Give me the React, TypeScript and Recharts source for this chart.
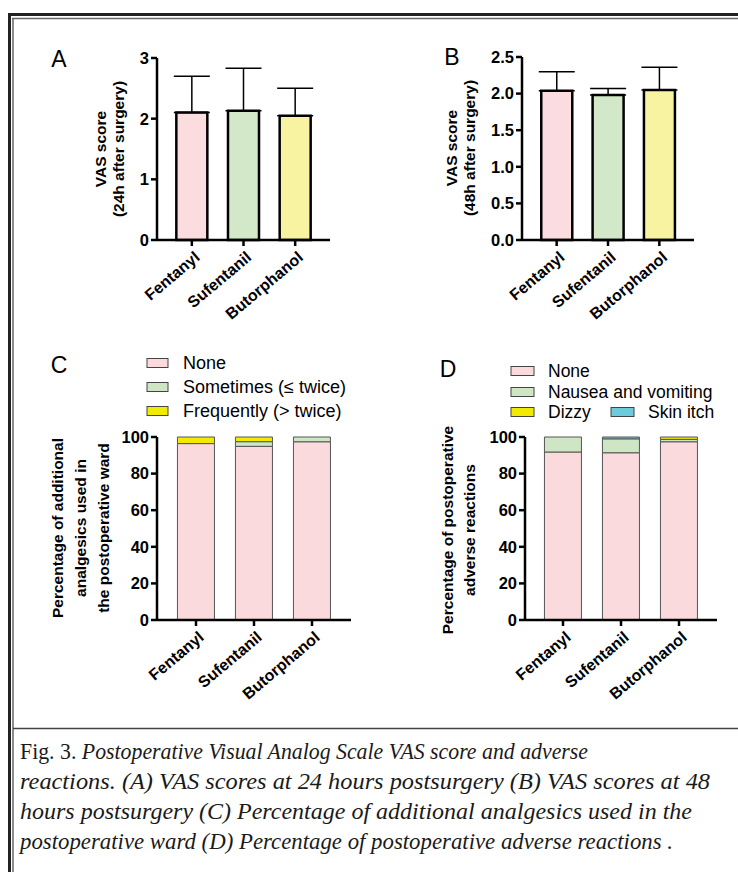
import React from 'react';
import { BarChart, Bar, XAxis, YAxis, ErrorBar, Cell, Label } from 'recharts';

const SANS = '"Liberation Sans", Arial, Helvetica, sans-serif';
const SERIF = '"Liberation Serif", "Times New Roman", serif';

// ---- data ----
const drugs = ['Fentanyl', 'Sufentanil', 'Butorphanol'];
const drugFills = ['#fbdde0', '#d2e8c8', '#f8f3a0'];

const vas24Mean = [2.1, 2.13, 2.05];
const vas24Sd = [0.6, 0.7, 0.45];
const vas24Ticks = [0, 1, 2, 3];

const vas48Mean = [2.04, 1.98, 2.05];
const vas48Sd = [0.26, 0.09, 0.31];
const vas48Ticks = [0, 0.5, 1, 1.5, 2, 2.5];

const pctTicks = [0, 20, 40, 60, 80, 100];

const analgNames = ['None', 'Sometimes (\u2264 twice)', 'Frequently (> twice)'];
const analgColors = ['#fbdadd', '#cfe6c4', '#f2ea00'];
const analgNone = [96.4, 94.9, 97.4];
const analgSometimes = [0, 2.55, 2.6];
const analgFrequent = [3.6, 2.55, 0];

const advNames = ['None', 'Nausea and vomiting', 'Dizzy', 'Skin itch'];
const advColors = ['#fbdadd', '#cfe6c4', '#f2ea00', '#6ecbdc'];
const advNone = [91.8, 91.4, 97.4];
const advNausea = [8.2, 7.6, 1.3];
const advDizzy = [0, 0, 1.3];
const advItch = [0, 1.0, 0];

const captionLines = [
  { reg: 'Fig. 3. ', it: 'Postoperative Visual Analog Scale VAS score and adverse', w: 568 },
  { reg: '', it: 'reactions. (A) VAS scores at 24 hours postsurgery (B) VAS scores at 48', w: 690 },
  { reg: '', it: 'hours postsurgery (C) Percentage of additional analgesics used in the', w: 672 },
  { reg: '', it: 'postoperative ward (D) Percentage of postoperative adverse reactions .', w: 653 },
];

// ---- tables ----
const vas24Data = drugs.map((d, i) => ({ name: d, mean: vas24Mean[i], err: [0, vas24Sd[i]] }));
const vas48Data = drugs.map((d, i) => ({ name: d, mean: vas48Mean[i], err: [0, vas48Sd[i]] }));
const analgData = drugs.map((d, i) => ({
  name: d, none: analgNone[i], sometimes: analgSometimes[i], frequent: analgFrequent[i],
}));
const advData = drugs.map((d, i) => ({
  name: d, none: advNone[i], nausea: advNausea[i], dizzy: advDizzy[i], itch: advItch[i],
}));

const axisStyle = { stroke: '#000', strokeWidth: 2.5 };

const XTick = (props: any) => {
  const { x, y, payload } = props;
  const ax = x + 9;
  const ay = y + 11;
  return (
    <text
      x={ax}
      y={ay}
      textAnchor="end"
      transform={`rotate(-40 ${ax} ${ay})`}
      fontFamily={SANS}
      fontWeight="bold"
      fontSize={16}
      fill="#000"
    >
      {payload.value}
    </text>
  );
};

const yTickStyle = { fontFamily: SANS, fontWeight: 'bold', fontSize: 16.5, fill: '#000' };

const axisTitle = (lines: string[], xs: number[], cy: number) => () => (
  <g>
    {lines.map((t, i) => (
      <text
        key={i}
        x={xs[i]}
        y={cy}
        transform={`rotate(-90 ${xs[i]} ${cy})`}
        textAnchor="middle"
        dominantBaseline="central"
        fontFamily={SANS}
        fontWeight="bold"
        fontSize={15.5}
        fill="#000"
      >
        {t}
      </text>
    ))}
  </g>
);

const pos = (left: number, top: number): React.CSSProperties => ({ position: 'absolute', left, top });

export default function App() {
  return (
    <div style={{ position: 'absolute', left: 0, top: 0, width: 738, height: 872, background: '#fff', overflow: 'hidden' }}>
      {/* frame */}
      <svg width={738} height={872} style={pos(0, 0)}>
        <line x1={8} y1={14.5} x2={738} y2={14.5} stroke="#222" strokeWidth={3} />
        <line x1={9.5} y1={13} x2={9.5} y2={872} stroke="#222" strokeWidth={3} />
        <line x1={12} y1={18.5} x2={738} y2={18.5} stroke="#666" strokeWidth={1.5} />
        <line x1={13} y1={18} x2={13} y2={872} stroke="#666" strokeWidth={1.5} />
        <line x1={13} y1={728.5} x2={738} y2={728.5} stroke="#444" strokeWidth={1.5} />
        {['A', 'B', 'C', 'D'].map((l, i) => (
          <text
            key={l}
            x={[59, 452, 59, 448][i]}
            y={[59, 57, 365, 369][i]}
            textAnchor="middle"
            dominantBaseline="central"
            fontFamily={SANS}
            fontSize={23}
            fill="#000"
          >
            {l}
          </text>
        ))}
        {/* legend C */}
        {analgNames.map((n, i) => (
          <g key={n}>
            <rect x={147} y={[363, 387, 411][i] - 4.5} width={21} height={9} fill={analgColors[i]} stroke="#444" strokeWidth={1} />
            <text x={183} y={[363, 387, 411][i]} dominantBaseline="central" fontFamily={SANS} fontSize={18} fill="#000">{n}</text>
          </g>
        ))}
        {/* legend D */}
        {advNames.map((n, i) => {
          const sx = [511, 511, 511, 611][i];
          const ty = [371, 392, 412, 412][i];
          return (
            <g key={n}>
              <rect x={sx} y={ty - 4.5} width={23} height={9} fill={advColors[i]} stroke="#444" strokeWidth={1} />
              <text x={sx + 37} y={ty} dominantBaseline="central" fontFamily={SANS} fontSize={17.5} fill="#000">{n}</text>
            </g>
          );
        })}
        {/* caption */}
        {captionLines.map((ln, i) => (
          <text
            key={i}
            x={20}
            y={759 + i * 30}
            fontFamily={SERIF}
            fontSize={23}
            fill="#1a1a1a"
            textLength={ln.w}
            lengthAdjust="spacingAndGlyphs"
          >
            {ln.reg ? <tspan>{ln.reg}</tspan> : null}
            <tspan fontStyle="italic">{ln.it}</tspan>
          </text>
        ))}
      </svg>

      {/* Panel A */}
      <div style={pos(0, 0)}>
        <BarChart width={369} height={330} data={vas24Data} margin={{ top: 58, right: 39, left: 107, bottom: 0 }} barCategoryGap="20%">
          <XAxis dataKey="name" height={90} padding={{ left: 9, right: 9 }} axisLine={axisStyle} tickLine={axisStyle} tickSize={6} interval={0} tick={<XTick />} />
          <YAxis width={50} domain={[0, 3]} ticks={vas24Ticks} interval={0} axisLine={axisStyle} tickLine={axisStyle} tickSize={6} tick={yTickStyle}>
            <Label content={axisTitle(['VAS score', '(24h after surgery)'], [100, 118], 149)} />
          </YAxis>
          <Bar dataKey="mean" stroke="#000" strokeWidth={2.5} isAnimationActive={false}>
            {drugs.map((d, i) => <Cell key={d} fill={drugFills[i]} />)}
            <ErrorBar dataKey="err" direction="y" width={18} stroke="#000" strokeWidth={1.5} isAnimationActive={false} />
          </Bar>
        </BarChart>
      </div>

      {/* Panel B */}
      <div style={pos(369, 0)}>
        <BarChart width={369} height={330} data={vas48Data} margin={{ top: 57, right: 44, left: 103, bottom: 0 }} barCategoryGap="20%">
          <XAxis dataKey="name" height={90} padding={{ left: 9, right: 9 }} axisLine={axisStyle} tickLine={axisStyle} tickSize={6} interval={0} tick={<XTick />} />
          <YAxis width={50} domain={[0, 2.5]} ticks={vas48Ticks} interval={0} tickFormatter={(v: number) => v.toFixed(1)} axisLine={axisStyle} tickLine={axisStyle} tickSize={6} tick={yTickStyle}>
            <Label content={axisTitle(['VAS score', '(48h after surgery)'], [82, 100], 148)} />
          </YAxis>
          <Bar dataKey="mean" stroke="#000" strokeWidth={2.5} isAnimationActive={false}>
            {drugs.map((d, i) => <Cell key={d} fill={drugFills[i]} />)}
            <ErrorBar dataKey="err" direction="y" width={18} stroke="#000" strokeWidth={1.5} isAnimationActive={false} />
          </Bar>
        </BarChart>
      </div>

      {/* Panel C */}
      <div style={pos(0, 330)}>
        <BarChart width={369} height={400} data={analgData} margin={{ top: 107, right: 18, left: 107, bottom: 0 }} barCategoryGap="18%">
          <XAxis dataKey="name" height={110} padding={{ left: 10, right: 10 }} axisLine={axisStyle} tickLine={axisStyle} tickSize={6} interval={0} tick={<XTick />} />
          <YAxis width={50} domain={[0, 100]} ticks={pctTicks} interval={0} axisLine={axisStyle} tickLine={axisStyle} tickSize={6} tick={yTickStyle}>
            <Label content={axisTitle(['Percentage of additional', 'analgesics used in', 'the postoperative ward'], [57, 80, 103], 198)} />
          </YAxis>
          <Bar dataKey="none" stackId="a" fill={analgColors[0]} stroke="#555" strokeWidth={1} isAnimationActive={false} />
          <Bar dataKey="sometimes" stackId="a" fill={analgColors[1]} stroke="#555" strokeWidth={1} isAnimationActive={false} />
          <Bar dataKey="frequent" stackId="a" fill={analgColors[2]} stroke="#555" strokeWidth={1} isAnimationActive={false} />
        </BarChart>
      </div>

      {/* Panel D */}
      <div style={pos(369, 330)}>
        <BarChart width={369} height={400} data={advData} margin={{ top: 107, right: 21, left: 106, bottom: 0 }} barCategoryGap="18%">
          <XAxis dataKey="name" height={110} padding={{ left: 9, right: 9 }} axisLine={axisStyle} tickLine={axisStyle} tickSize={6} interval={0} tick={<XTick />} />
          <YAxis width={50} domain={[0, 100]} ticks={pctTicks} interval={0} axisLine={axisStyle} tickLine={axisStyle} tickSize={6} tick={yTickStyle}>
            <Label content={axisTitle(['Percentage of postoperative', 'adverse reactions'], [78, 100], 200)} />
          </YAxis>
          <Bar dataKey="none" stackId="a" fill={advColors[0]} stroke="#555" strokeWidth={1} isAnimationActive={false} />
          <Bar dataKey="nausea" stackId="a" fill={advColors[1]} stroke="#555" strokeWidth={1} isAnimationActive={false} />
          <Bar dataKey="dizzy" stackId="a" fill={advColors[2]} stroke="#555" strokeWidth={1} isAnimationActive={false} />
          <Bar dataKey="itch" stackId="a" fill={advColors[3]} stroke="#555" strokeWidth={1} isAnimationActive={false} />
        </BarChart>
      </div>
    </div>
  );
}
